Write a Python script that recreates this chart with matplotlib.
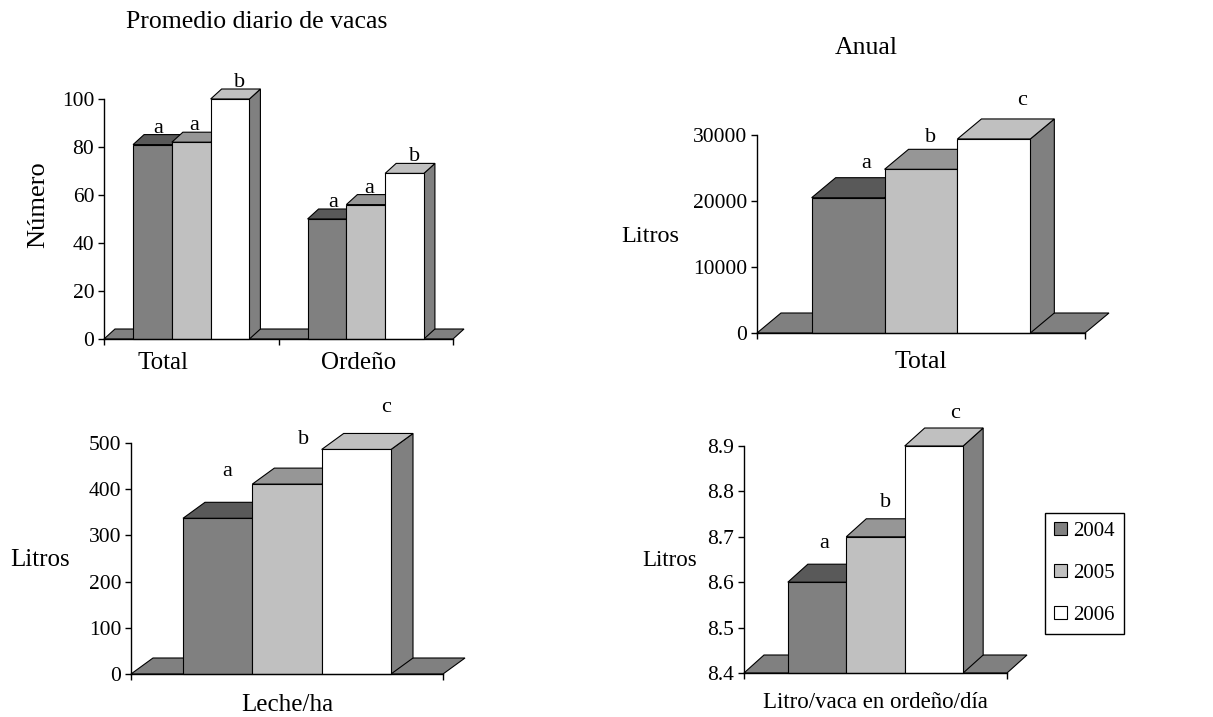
import matplotlib.pyplot as plt
from matplotlib.patches import Polygon, Patch
import numpy as np

plt.rcParams['font.family'] = ['Liberation Serif', 'DejaVu Serif']

W, H = 1213, 717

years = ['2004', '2005', '2006']
front_colors = ['#808080', '#c0c0c0', '#ffffff']
top_colors = ['#595959', '#969696', '#c0c0c0']
side_color = '#808080'

# promedio diario de vacas (one row per year)
vacas_cats = ['Total', 'Ordeño']
vacas = [[81, 50], [82, 56], [100, 69]]
vacas_letters = [['a', 'a'], ['a', 'a'], ['b', 'b']]

# producción anual
anual_cats = ['Total']
anual = [[20500], [24800], [29400]]
anual_letters = [['a'], ['b'], ['c']]

# leche por hectárea
leche_cats = ['Leche/ha']
leche = [[337], [411], [486]]
leche_letters = [['a'], ['b'], ['c']]

# litros por vaca en ordeño por día
ldia_cats = ['Litro/vaca en ordeño/día']
ldia = [[8.6], [8.7], [8.9]]
ldia_letters = [['a'], ['b'], ['c']]


def px_text(x, y, s, **kw):
    fig.text(x / W, 1 - y / H, s, ha='center', va='center', **kw)


def panel(box, cats, values, letters, yticks, depth, lab_dx, lab_gap,
          cat_x=None, cat_y=22, cat_size=17):
    left, top, right, bottom = box
    ax = fig.add_axes([left / W, 1 - bottom / H, (right - left) / W, (bottom - top) / H])
    ncat = len(cats)
    ymin, ymax = yticks[0], yticks[-1]
    ax.set_xlim(0, ncat)
    ax.set_ylim(ymin, ymax)
    ddx = depth[0] / (right - left) * ncat
    ddy = depth[1] / (bottom - top) * (ymax - ymin)
    kw = dict(ec='k', lw=0.8, clip_on=False)

    # floor
    ax.add_patch(Polygon([(0, ymin), (ncat, ymin), (ncat + ddx, ymin + ddy),
                          (ddx, ymin + ddy)], fc=side_color, zorder=1, **kw))

    bw = (2 / 3) / len(years)
    for i in range(ncat):
        for j in range(len(years)):
            v = values[j][i]
            x0 = i + 1 / 6 + j * bw
            x1 = x0 + bw
            ax.add_patch(Polygon([(x1, ymin), (x1 + ddx, ymin + ddy), (x1 + ddx, v + ddy), (x1, v)],
                                 fc=side_color, zorder=2, **kw))
            ax.add_patch(Polygon([(x0, v), (x1, v), (x1 + ddx, v + ddy), (x0 + ddx, v + ddy)],
                                 fc=top_colors[j], zorder=2, **kw))
            ax.add_patch(Polygon([(x0, ymin), (x1, ymin), (x1, v), (x0, v)],
                                 fc=front_colors[j], zorder=2, **kw))
            ax.annotate(letters[j][i], xy=(x0 + bw / 2, v),
                        xytext=(lab_dx[j], depth[1] + lab_gap[j]), textcoords='offset pixels',
                        ha='center', va='baseline', fontsize=16, annotation_clip=False)

    for s in ['top', 'right']:
        ax.spines[s].set_visible(False)
    for s in ['left', 'bottom']:
        ax.spines[s].set_linewidth(1.0)
    ax.set_yticks(yticks)
    ax.set_yticklabels(['{:g}'.format(t) for t in yticks])
    ax.set_xticks(range(ncat + 1))
    ax.set_xticklabels([])
    ax.tick_params(direction='out', length=4, width=1.0, labelsize=15.5, pad=3)
    ax.patch.set_visible(False)

    if cat_x is None:
        cat_x = [i + 0.5 for i in range(ncat)]
    for x, c in zip(cat_x, cats):
        ax.annotate(c, xy=(x, ymin), xytext=(0, -cat_y), textcoords='offset pixels',
                    ha='center', va='center', fontsize=cat_size, annotation_clip=False)
    return ax


fig = plt.figure(figsize=(W / 100, H / 100), dpi=100)

panel((104, 99, 453, 339), vacas_cats, vacas, vacas_letters,
      list(range(0, 101, 20)), (11, 10), [6, 3, 10], [2, 2, 2],
      cat_x=[0.34, 1.46], cat_y=24, cat_size=18)
panel((757, 135, 1085, 333), anual_cats, anual, anual_letters,
      list(range(0, 30001, 10000)), (24, 20), [18, 10, 28], [10, 7, 14],
      cat_y=29, cat_size=18.5)
panel((131, 443, 443, 674), leche_cats, leche, leche_letters,
      list(range(0, 501, 100)), (22, 16), [10, 17, 30], [26, 24, 21],
      cat_y=31, cat_size=18)
panel((744, 446, 1007, 673), ldia_cats, ldia, ldia_letters,
      [round(8.4 + 0.1 * k, 1) for k in range(6)], (20, 18), [7, 10, 21], [16, 12, 10],
      cat_y=30, cat_size=16.5)

px_text(257, 22, 'Promedio diario de vacas', fontsize=18.5)
px_text(866, 48, 'Anual', fontsize=18.5)
px_text(38, 205, 'Número', fontsize=19, rotation=90)
px_text(650, 236, 'Litros', fontsize=17.5)
px_text(40, 560, 'Litros', fontsize=18)
px_text(670, 561, 'Litros', fontsize=16.5)

handles = [Patch(fc=c, ec='k', lw=0.8) for c in front_colors]
leg = fig.legend(handles, years, loc='center', bbox_to_anchor=(1084.5 / W, 1 - 573.5 / H),
                 fancybox=False, edgecolor='k', framealpha=1, fontsize=15,
                 handlelength=0.6, handleheight=0.6, handletextpad=0.3,
                 labelspacing=1.1, borderpad=0.45)
leg.get_frame().set_linewidth(1.0)

fig.savefig('out.png', dpi=100)
